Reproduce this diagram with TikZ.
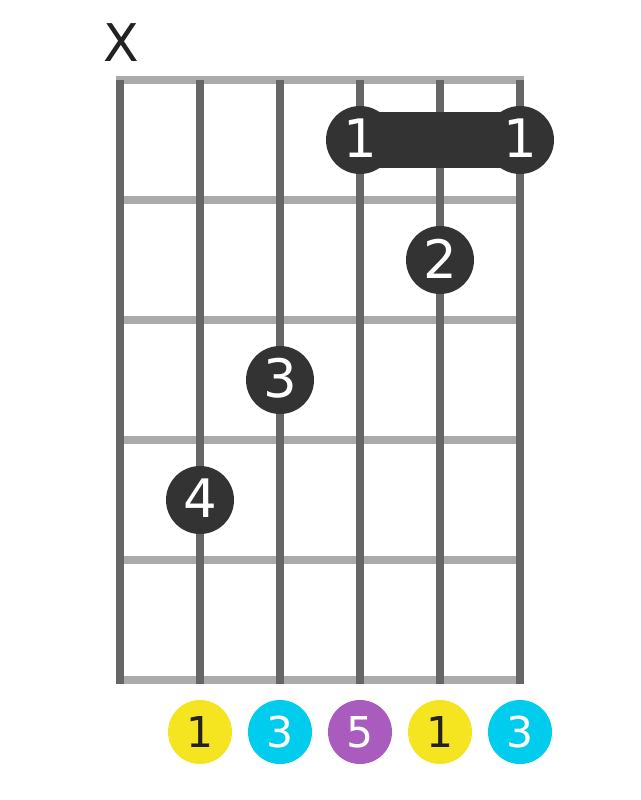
\documentclass[tikz,border=0pt]{standalone}
\usepackage{fontspec}
\setmainfont{DejaVu Sans}
\definecolor{fretc}{HTML}{AAAAAA}
\definecolor{stringc}{HTML}{666666}
\definecolor{dotc}{HTML}{333333}
\definecolor{inkc}{HTML}{222222}
\definecolor{yel}{HTML}{F5E521}
\definecolor{cyn}{HTML}{00CCEE}
\definecolor{pur}{HTML}{A95BBE}
\tikzset{
  fret/.style={fretc, line width=8pt},
  strg/.style={stringc, line width=8pt},
  finger/.style={circle, fill=dotc, minimum size=68pt, inner sep=0pt, text=white, font=\fontsize{53}{53}\selectfont},
  fingertext/.style={text=white, inner sep=0pt, font=\fontsize{53}{53}\selectfont, yshift=1.5pt},
  note/.style={circle, minimum size=64pt, inner sep=0pt, font=\fontsize{42.5}{42.5}\selectfont},
}
\begin{document}
\begin{tikzpicture}[x=1pt,y=-1pt]
\useasboundingbox (0,0) rectangle (640,800);
% frets
\draw[fret] (116,80) -- (524,80);
\foreach \y in {200,320,440,560} \draw[fret] (120,\y) -- (520,\y);
\draw[fret] (116,680) -- (524,680);
% strings
\foreach \x in {120,200,280,360,440,520} \draw[strg] (\x,80) -- (\x,684);
% muted
\node[text=inkc, inner sep=0pt, font=\fontsize{52}{52}\selectfont] (mute) at (121,43) {X};
% barre
\fill[dotc] (360,112) rectangle (520,168);
\node[finger] (b1) at (360,140) {};
\node[finger] (b2) at (520,140) {};
\node[finger] (f2) at (440,260) {};
\node[finger] (f3) at (280,380) {};
\node[finger] (f4) at (200,500) {};
\node[fingertext] (t1) at (b1) {1};
\node[fingertext] (t2) at (b2) {1};
\node[fingertext] (t3) at (f2) {2};
\node[fingertext] (t4) at (f3) {3};
\node[fingertext] (t5) at (f4) {4};
% notes
\node[note, fill=yel, text=inkc] (n2) at (200,732) {1};
\node[note, fill=cyn, text=white] (n3) at (280,732) {3};
\node[note, fill=pur, text=white] (n4) at (360,732) {5};
\node[note, fill=yel, text=inkc] (n5) at (440,732) {1};
\node[note, fill=cyn, text=white] (n6) at (520,732) {3};
\end{tikzpicture}
\end{document}
